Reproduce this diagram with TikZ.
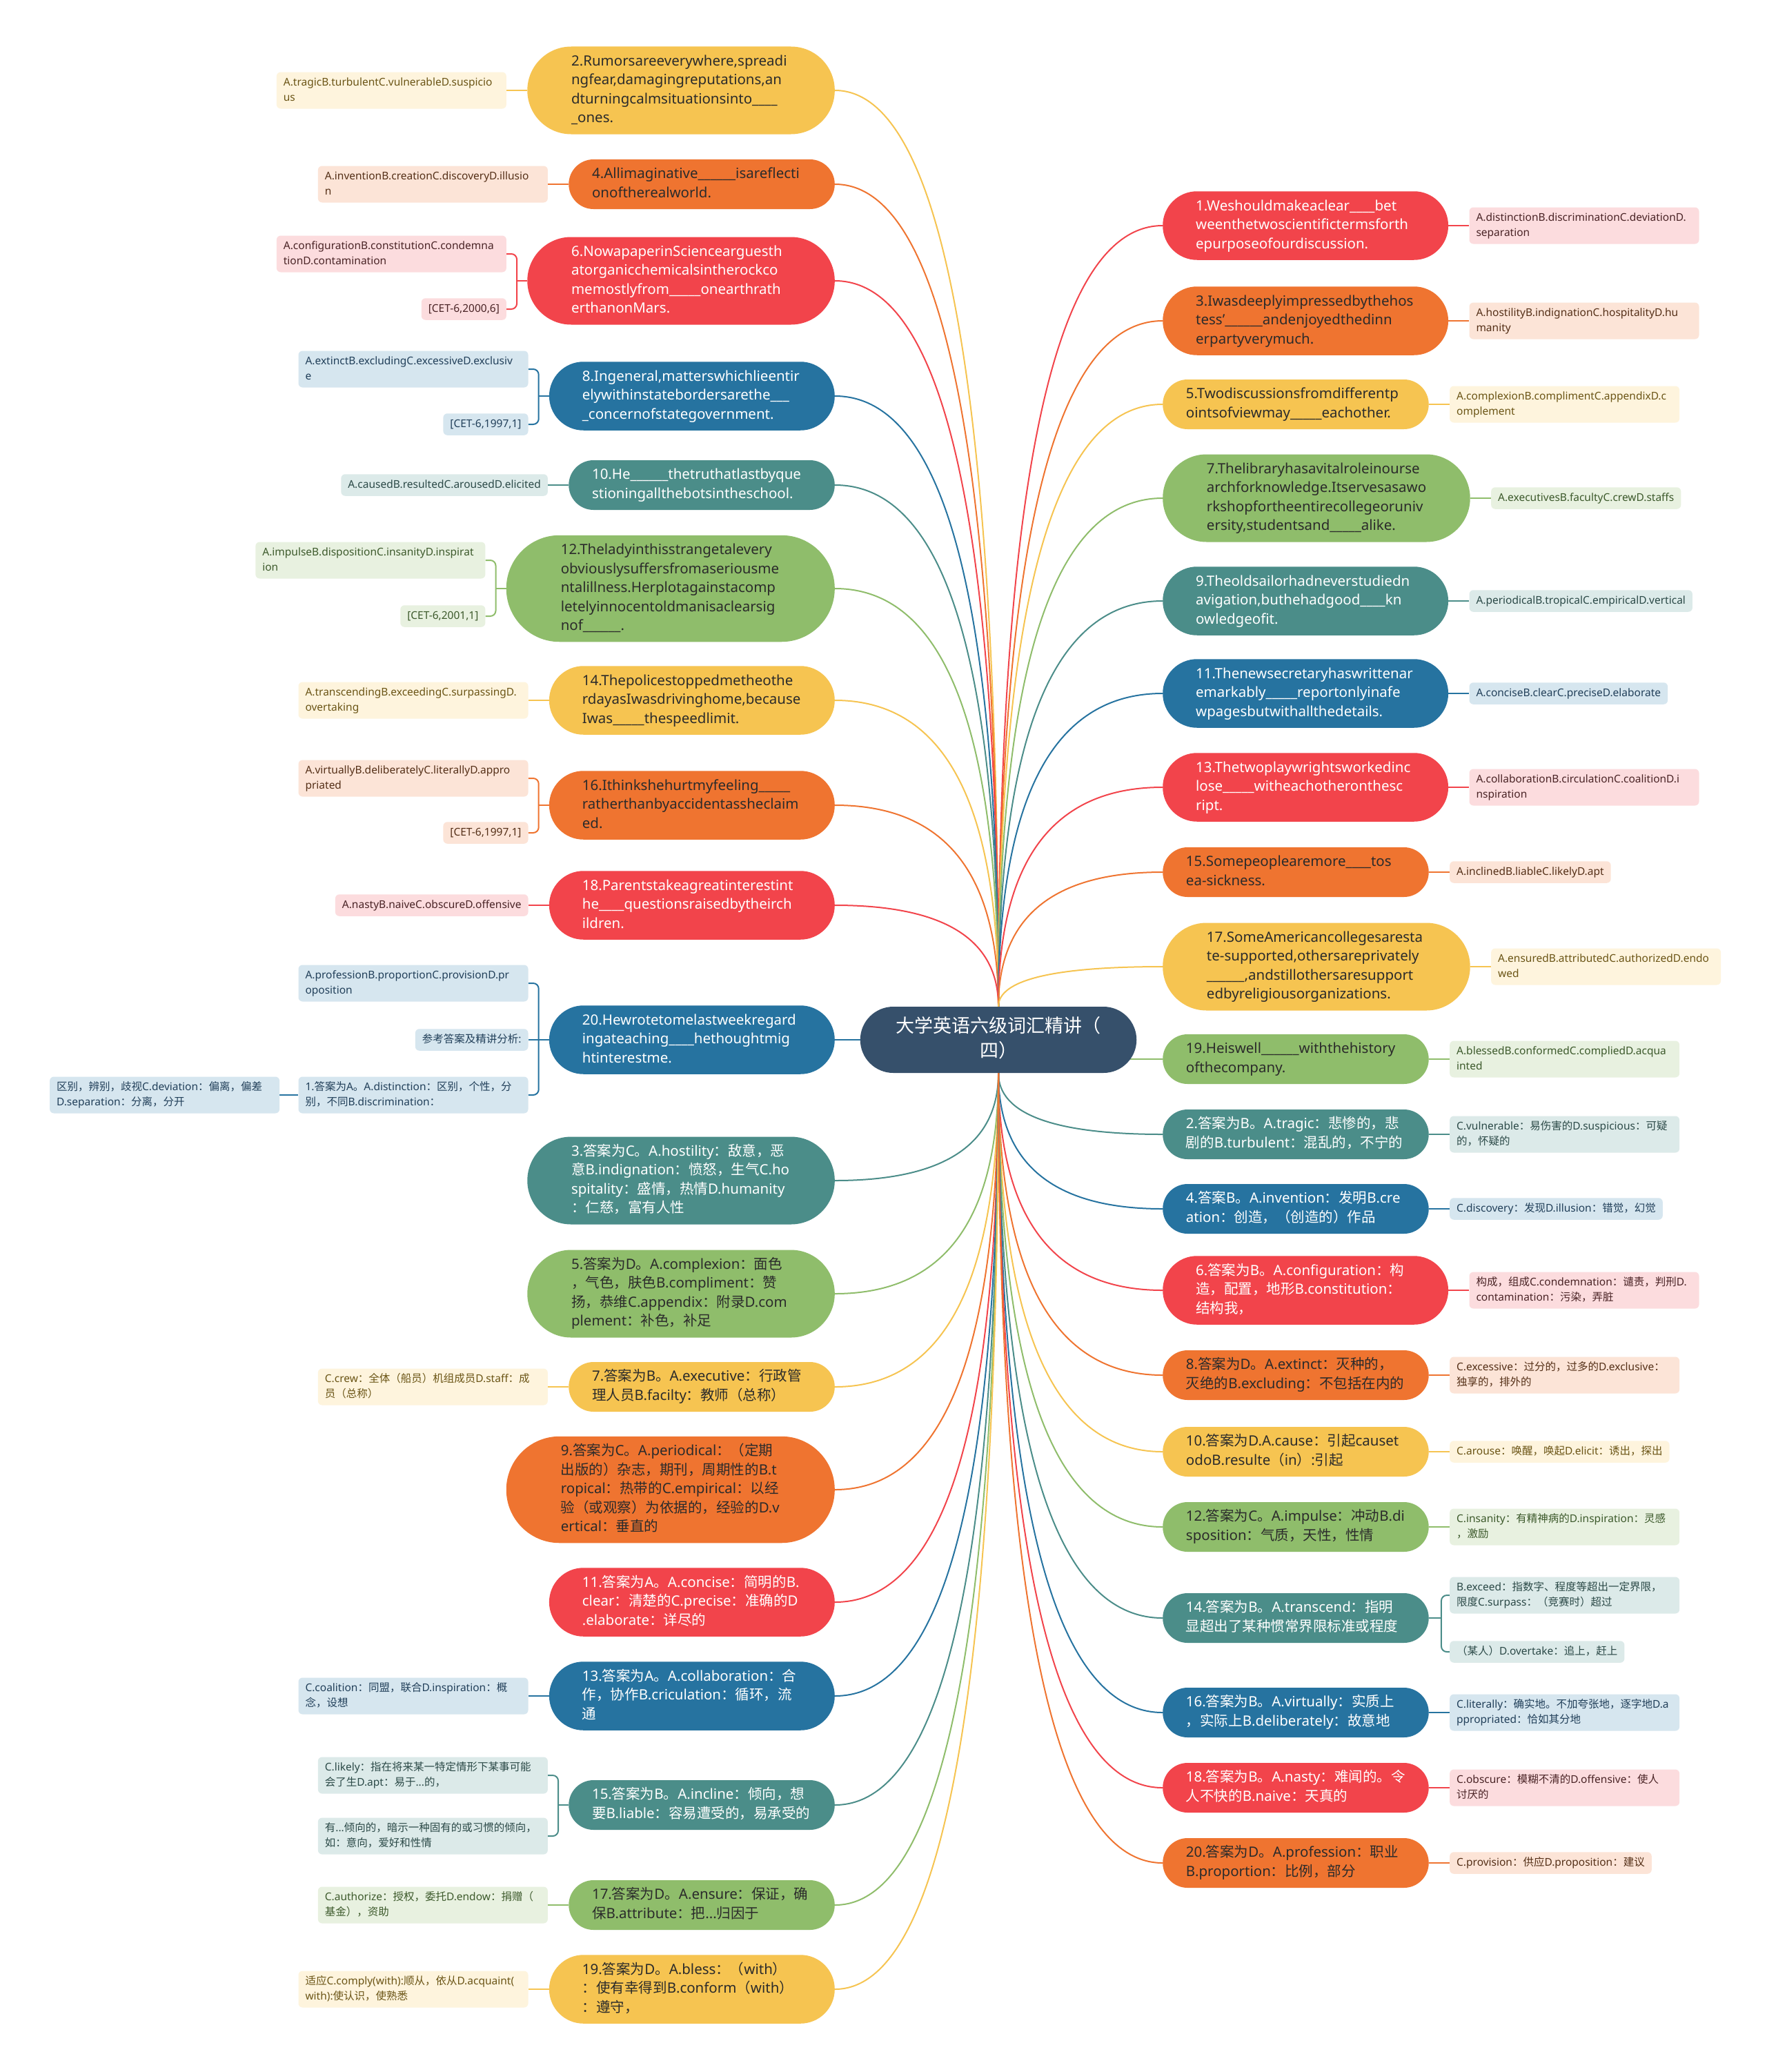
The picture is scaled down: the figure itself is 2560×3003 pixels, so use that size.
\documentclass[tikz,border=0pt]{standalone}
\usepackage{fontspec}
\setmainfont{Noto Sans}
\newfontfamily\cjkfont{Noto Sans CJK SC}
\usetikzlibrary{shapes.misc,positioning,calc}
\pgfdeclarelayer{bg}
\pgfsetlayers{bg,main}

% CJK runs are set in the CJK family
\XeTeXinterchartokenstate=1
\chardef\cjkcls=7
\newcount\cjkcnt
\newcommand\setcjkrange[2]{%
  \cjkcnt=#1\relax
  \loop\XeTeXcharclass\cjkcnt=\cjkcls
    \advance\cjkcnt by 1
  \ifnum\cjkcnt<#2\relax\repeat}
\setcjkrange{"3000}{"3040}
\setcjkrange{"4E00}{"A000}
\setcjkrange{"FF00}{"FFF0}
\XeTeXinterchartoks 0 \cjkcls = {\begingroup\cjkfont}
\XeTeXinterchartoks 4095 \cjkcls = {\begingroup\cjkfont}
\XeTeXinterchartoks \cjkcls 0 = {\endgroup}
\XeTeXinterchartoks \cjkcls 4095 = {\endgroup}

\definecolor{cre}{HTML}{F2444B}
\definecolor{cor}{HTML}{EF7430}
\definecolor{cye}{HTML}{F6C451}
\definecolor{cgr}{HTML}{8FBD6B}
\definecolor{cte}{HTML}{4B8D89}
\definecolor{cbl}{HTML}{2673A0}
\definecolor{cdk}{HTML}{36506B}
\definecolor{lre}{HTML}{FCDCDE}
\definecolor{lor}{HTML}{FCE4D7}
\definecolor{lye}{HTML}{FEF4DD}
\definecolor{lgr}{HTML}{E8F1E0}
\definecolor{lte}{HTML}{DCEAE9}
\definecolor{lbl}{HTML}{D6E6EF}
\definecolor{ink}{HTML}{2B2B2B}
\definecolor{dre}{HTML}{4A2426}
\definecolor{dor}{HTML}{553018}
\definecolor{dye}{HTML}{6B5516}
\definecolor{dgr}{HTML}{3D5A2C}
\definecolor{dte}{HTML}{2C4A48}
\definecolor{dbl}{HTML}{22405A}

\begin{document}
\begin{tikzpicture}[
    x=1pt, y=-1pt,
    node distance=30pt,
    hub/.style={
        rounded rectangle,
        fill=cdk, text=white,
        text width=316pt, align=center,
        inner xsep=26pt, inner ysep=12pt,
        font=\fontsize{27}{36}\selectfont,
        execute at begin node=\strut, execute at end node=\strut
    },
    topic/.style={
        rounded rectangle,
        text width=318pt, align=left,
        inner xsep=21pt, inner ysep=8.5pt,
        font=\fontsize{20.5}{27.5}\selectfont,
        execute at begin node=\strut, execute at end node=\strut
    },
    lines3/.style={inner xsep=26pt},
    lines4/.style={inner xsep=32pt},
    lines5/.style={inner xsep=37pt},
    qred/.style={topic, fill=cre, text=white},
    qorange/.style={topic, fill=cor, text=ink},
    qyellow/.style={topic, fill=cye, text=ink},
    qgreen/.style={topic, fill=cgr, text=ink},
    qteal/.style={topic, fill=cte, text=white},
    qblue/.style={topic, fill=cbl, text=white},
    note/.style={
        rectangle, rounded corners=6pt,
        align=left,
        inner xsep=10pt, inner ysep=5pt,
        font=\fontsize{15.5}{21.5}\selectfont,
        execute at begin node=\strut, execute at end node=\strut
    },
    ared/.style={note, fill=lre, text=dre},
    aorange/.style={note, fill=lor, text=dor},
    ayellow/.style={note, fill=lye, text=dye},
    agreen/.style={note, fill=lgr, text=dgr},
    ateal/.style={note, fill=lte, text=dte},
    ablue/.style={note, fill=lbl, text=dbl},
    wide/.style={text width=313pt},
    ln/.style={draw=#1, line width=2pt}
]
\useasboundingbox (0,0) rectangle (2560,3003);

\node[hub] (ctr) at (1447,1507) {大学英语六级词汇精讲（\\四）};
\coordinate (ctop) at (ctr.north);
\coordinate (cbot) at (ctr.south);

% left questions
\node[qyellow, lines4, anchor=east] (l1) at (1210,131) {2.Rumorsareeverywhere,spreadi\\ngfear,damagingreputations,an\\dturningcalmsituationsinto\_\_\_\_\\\_ones.};
\node[qorange, anchor=east] (l2) at (1210,267) {4.Allimaginative\_\_\_\_\_\_isareflecti\\onoftherealworld.};
\node[qred, lines4, anchor=east] (l3) at (1210,407) {6.NowapaperinSciencearguesth\\atorganicchemicalsintherockco\\memostlyfrom\_\_\_\_\_onearthrath\\erthanonMars.};
\node[qblue, lines3, anchor=east] (l4) at (1210,574) {8.Ingeneral,matterswhichlieentir\\elywithinstatebordersarethe\_\_\_\\\_concernofstategovernment.};
\node[qteal, anchor=east] (l5) at (1210,703) {10.He\_\_\_\_\_\_thetruthatlastbyque\\stioningallthebotsintheschool.};
\node[qgreen, lines5, anchor=east] (l6) at (1210,853) {12.Theladyinthisstrangetalevery\\obviouslysuffersfromaseriousme\\ntalillness.Herplotagainstacomp\\letelyinnocentoldmanisaclearsig\\nof\_\_\_\_\_\_.};
\node[qyellow, lines3, anchor=east] (l7) at (1210,1015) {14.Thepolicestoppedmetheothe\\rdayasIwasdrivinghome,because\\Iwas\_\_\_\_\_thespeedlimit.};
\node[qorange, lines3, anchor=east] (l8) at (1210,1167) {16.Ithinkshehurtmyfeeling\_\_\_\_\_\\ratherthanbyaccidentassheclaim\\ed.};
\node[qred, lines3, anchor=east] (l9) at (1210,1312) {18.Parentstakeagreatinterestint\\he\_\_\_\_questionsraisedbytheirch\\ildren.};
\node[qblue, lines3, anchor=east] (l10) at (1210,1507) {20.Hewrotetomelastweekregard\\ingateaching\_\_\_\_hethoughtmig\\htinterestme.};
\node[qteal, lines4, anchor=east] (l11) at (1210,1711) {3.答案为C。A.hostility：敌意，恶\\意B.indignation：愤怒，生气C.ho\\spitality：盛情，热情D.humanity\\：仁慈，富有人性};
\node[qgreen, lines4, anchor=east] (l12) at (1210,1875) {5.答案为D。A.complexion：面色\\，气色，肤色B.compliment：赞\\扬，恭维C.appendix：附录D.com\\plement：补色，补足};
\node[qyellow, anchor=east] (l13) at (1210,2010) {7.答案为B。A.executive：行政管\\理人员B.facilty：教师（总称）};
\node[qorange, lines5, anchor=east] (l14) at (1210,2159) {9.答案为C。A.periodical：（定期\\出版的）杂志，期刊，周期性的B.t\\ropical：热带的C.empirical：以经\\验（或观察）为依据的，经验的D.v\\ertical：垂直的};
\node[qred, lines3, anchor=east] (l15) at (1210,2322) {11.答案为A。A.concise：简明的B.\\clear：清楚的C.precise：准确的D\\.elaborate：详尽的};
\node[qblue, lines3, anchor=east] (l16) at (1210,2458) {13.答案为A。A.collaboration：合\\作，协作B.criculation：循环，流\\通};
\node[qteal, anchor=east] (l17) at (1210,2616) {15.答案为B。A.incline：倾向，想\\要B.liable：容易遭受的，易承受的};
\node[qgreen, anchor=east] (l18) at (1210,2761) {17.答案为D。A.ensure：保证，确\\保B.attribute：把...归因于};
\node[qyellow, lines3, anchor=east] (l19) at (1210,2883) {19.答案为D。A.bless：（with）\\：使有幸得到B.conform（with）\\：遵守，};

% left answers
\node[ayellow, wide, left=of l1] (l1s) {A.tragicB.turbulentC.vulnerableD.suspicio\\us};
\node[aorange, wide, left=of l2] (l2s) {A.inventionB.creationC.discoveryD.illusio\\n};
\node[ared, wide, left=of l3, yshift=39pt] (l3a) {A.configurationB.constitutionC.condemna\\tionD.contamination};
\node[ared, left=of l3, yshift=-41pt] (l3b) {[CET-6,2000,6]};
\node[ablue, wide, left=of l4, yshift=39pt] (l4a) {A.extinctB.excludingC.excessiveD.exclusiv\\e};
\node[ablue, left=of l4, yshift=-41pt] (l4b) {[CET-6,1997,1]};
\node[ateal, left=of l5] (l5s) {A.causedB.resultedC.arousedD.elicited};
\node[agreen, wide, left=of l6, yshift=41pt] (l6a) {A.impulseB.dispositionC.insanityD.inspirat\\ion};
\node[agreen, left=of l6, yshift=-40pt] (l6b) {[CET-6,2001,1]};
\node[ayellow, wide, left=of l7] (l7s) {A.transcendingB.exceedingC.surpassingD.\\overtaking};
\node[aorange, wide, left=of l8, yshift=39pt] (l8a) {A.virtuallyB.deliberatelyC.literallyD.appro\\priated};
\node[aorange, left=of l8, yshift=-40pt] (l8b) {[CET-6,1997,1]};
\node[ared, left=of l9] (l9s) {A.nastyB.naiveC.obscureD.offensive};
\node[ablue, wide, left=of l10, yshift=82pt] (l10a) {A.professionB.proportionC.provisionD.pr\\oposition};
\node[ablue, left=of l10] (l10b) {参考答案及精讲分析:};
\node[ablue, wide, left=of l10, yshift=-80pt] (l10c) {1.答案为A。A.distinction：区别，个性，分\\别，不同B.discrimination：};
\node[ablue, wide, left=27pt of l10c] (l10d) {区别，辨别，歧视C.deviation：偏离，偏差\\D.separation：分离，分开};
\node[ayellow, wide, left=of l13] (l13s) {C.crew：全体（船员）机组成员D.staff：成\\员（总称）};
\node[ablue, wide, left=of l16] (l16s) {C.coalition：同盟，联合D.inspiration：概\\念，设想};
\node[ateal, wide, left=of l17, yshift=43pt] (l17a) {C.likely：指在将来某一特定情形下某事可能\\会了生D.apt：易于...的，};
\node[ateal, wide, left=of l17, yshift=-45pt] (l17b) {有...倾向的，暗示一种固有的或习惯的倾向，\\如：意向，爱好和性情};
\node[agreen, wide, left=of l18] (l18s) {C.authorize：授权，委托D.endow：捐赠（\\基金），资助};
\node[ayellow, wide, left=of l19] (l19s) {适应C.comply(with):顺从，依从D.acquaint(\\with):使认识，使熟悉};

% right questions
\node[qred, lines3, anchor=west] (r1) at (1685,327) {1.Weshouldmakeaclear\_\_\_\_bet\\weenthetwoscientifictermsforth\\epurposeofourdiscussion.};
\node[qorange, lines3, anchor=west] (r2) at (1685,465) {3.Iwasdeeplyimpressedbythehos\\tess'\_\_\_\_\_\_andenjoyedthedinn\\erpartyverymuch.};
\node[qyellow, anchor=west] (r3) at (1685,586) {5.Twodiscussionsfromdifferentp\\ointsofviewmay\_\_\_\_\_eachother.};
\node[qgreen, lines4, anchor=west] (r4) at (1685,722) {7.Thelibraryhasavitalroleinourse\\archforknowledge.Itservesasawo\\rkshopfortheentirecollegeoruniv\\ersity,studentsand\_\_\_\_\_alike.};
\node[qteal, lines3, anchor=west] (r5) at (1685,871) {9.Theoldsailorhadneverstudiedn\\avigation,buthehadgood\_\_\_\_kn\\owledgeofit.};
\node[qblue, lines3, anchor=west] (r6) at (1685,1005) {11.Thenewsecretaryhaswrittenar\\emarkably\_\_\_\_\_reportonlyinafe\\wpagesbutwithallthedetails.};
\node[qred, lines3, anchor=west] (r7) at (1685,1141) {13.Thetwoplaywrightsworkedinc\\lose\_\_\_\_\_witheachotheronthesc\\ript.};
\node[qorange, anchor=west] (r8) at (1685,1264) {15.Somepeoplearemore\_\_\_\_tos\\ea-sickness.};
\node[qyellow, lines4, anchor=west] (r9) at (1685,1401) {17.SomeAmericancollegesaresta\\te-supported,othersareprivately\\\_\_\_\_\_\_,andstillothersaresupport\\edbyreligiousorganizations.};
\node[qgreen, anchor=west] (r10) at (1685,1535) {19.Heiswell\_\_\_\_\_\_withthehistory\\ofthecompany.};
\node[qteal, anchor=west] (r11) at (1685,1644) {2.答案为B。A.tragic：悲惨的，悲\\剧的B.turbulent：混乱的，不宁的};
\node[qblue, anchor=west] (r12) at (1685,1752) {4.答案B。A.invention：发明B.cre\\ation：创造，（创造的）作品};
\node[qred, lines3, anchor=west] (r13) at (1685,1870) {6.答案为B。A.configuration：构\\造，配置，地形B.constitution：\\结构我，};
\node[qorange, anchor=west] (r14) at (1685,1993) {8.答案为D。A.extinct：灭种的，\\灭绝的B.excluding：不包括在内的};
\node[qyellow, anchor=west] (r15) at (1685,2104) {10.答案为D.A.cause：引起causet\\odoB.resulte（in）:引起};
\node[qgreen, anchor=west] (r16) at (1685,2213) {12.答案为C。A.impulse：冲动B.di\\sposition：气质，天性，性情};
\node[qteal, anchor=west] (r17) at (1685,2345) {14.答案为B。A.transcend：指明\\显超出了某种惯常界限标准或程度};
\node[qblue, anchor=west] (r18) at (1685,2482) {16.答案为B。A.virtually：实质上\\，实际上B.deliberately：故意地};
\node[qred, anchor=west] (r19) at (1685,2591) {18.答案为B。A.nasty：难闻的。令\\人不快的B.naive：天真的};
\node[qorange, anchor=west] (r20) at (1685,2700) {20.答案为D。A.profession：职业\\B.proportion：比例，部分};

% right answers
\node[ared, wide, right=of r1] (r1s) {A.distinctionB.discriminationC.deviationD.\\separation};
\node[aorange, wide, right=of r2] (r2s) {A.hostilityB.indignationC.hospitalityD.hu\\manity};
\node[ayellow, wide, right=of r3] (r3s) {A.complexionB.complimentC.appendixD.c\\omplement};
\node[agreen, right=of r4] (r4s) {A.executivesB.facultyC.crewD.staffs};
\node[ateal, right=of r5] (r5s) {A.periodicalB.tropicalC.empiricalD.vertical};
\node[ablue, right=of r6] (r6s) {A.conciseB.clearC.preciseD.elaborate};
\node[ared, wide, right=of r7] (r7s) {A.collaborationB.circulationC.coalitionD.i\\nspiration};
\node[aorange, right=of r8] (r8s) {A.inclinedB.liableC.likelyD.apt};
\node[ayellow, wide, right=of r9] (r9s) {A.ensuredB.attributedC.authorizedD.endo\\wed};
\node[agreen, wide, right=of r10] (r10s) {A.blessedB.conformedC.compliedD.acqua\\inted};
\node[ateal, wide, right=of r11] (r11s) {C.vulnerable：易伤害的D.suspicious：可疑\\的，怀疑的};
\node[ablue, right=of r12] (r12s) {C.discovery：发现D.illusion：错觉，幻觉};
\node[ared, wide, right=of r13] (r13s) {构成，组成C.condemnation：谴责，判刑D.\\contamination：污染，弄脏};
\node[aorange, wide, right=of r14] (r14s) {C.excessive：过分的，过多的D.exclusive：\\独享的，排外的};
\node[ayellow, right=of r15] (r15s) {C.arouse：唤醒，唤起D.elicit：诱出，探出};
\node[agreen, wide, right=of r16] (r16s) {C.insanity：有精神病的D.inspiration：灵感\\，激励};
\node[ateal, wide, right=of r17, yshift=33pt] (r17a) {B.exceed：指数字、程度等超出一定界限，\\限度C.surpass：（竞赛时）超过};
\node[ateal, right=of r17, yshift=-49pt] (r17b) {（某人）D.overtake：追上，赶上};
\node[ablue, wide, right=of r18] (r18s) {C.literally：确实地。不加夸张地，逐字地D.a\\ppropriated：恰如其分地};
\node[ared, wide, right=of r19] (r19s) {C.obscure：模糊不清的D.offensive：使人\\讨厌的};
\node[aorange, right=of r20] (r20s) {C.provision：供应D.proposition：建议};

\begin{pgfonlayer}{bg}
\fill[white] (0,0) rectangle (2560,3003);

% hub to questions
\foreach \n/\c in {l1/cye,l2/cor,l3/cre,l4/cbl,l5/cte,l6/cgr,l7/cye,l8/cor,l9/cre}
  \draw[ln=\c] (ctop) .. controls ($(ctop)!0.667!(ctop |- \n.east)$) and ($(\n.east)!0.667!(ctop |- \n.east)$) .. (\n.east);
\foreach \n/\c in {l11/cte,l12/cgr,l13/cye,l14/cor,l15/cre,l16/cbl,l17/cte,l18/cgr,l19/cye}
  \draw[ln=\c] (cbot) .. controls ($(cbot)!0.667!(cbot |- \n.east)$) and ($(\n.east)!0.667!(cbot |- \n.east)$) .. (\n.east);
\foreach \n/\c in {r1/cre,r2/cor,r3/cye,r4/cgr,r5/cte,r6/cbl,r7/cre,r8/cor,r9/cye}
  \draw[ln=\c] (ctop) .. controls ($(ctop)!0.667!(ctop |- \n.west)$) and ($(\n.west)!0.667!(ctop |- \n.west)$) .. (\n.west);
\foreach \n/\c in {r11/cte,r12/cbl,r13/cre,r14/cor,r15/cye,r16/cgr,r17/cte,r18/cbl,r19/cre,r20/cor}
  \draw[ln=\c] (cbot) .. controls ($(cbot)!0.667!(cbot |- \n.west)$) and ($(\n.west)!0.667!(cbot |- \n.west)$) .. (\n.west);
\draw[ln=cbl] (ctr.center) -- (l10.east);
\draw[ln=cgr] (ctr.center |- r10.west) -- (r10.west);

% questions to answers
\foreach \m/\s/\c in {l1/l1s/cye,l2/l2s/cor,l5/l5s/cte,l7/l7s/cye,l9/l9s/cre,l10/l10b/cbl,l13/l13s/cye,l16/l16s/cbl,l18/l18s/cgr,l19/l19s/cye}
  \draw[ln=\c] (\m.west) -- (\s.east);
\foreach \m/\s/\c in {r1/r1s/cre,r2/r2s/cor,r3/r3s/cye,r4/r4s/cgr,r5/r5s/cte,r6/r6s/cbl,r7/r7s/cre,r8/r8s/cor,r9/r9s/cye,r10/r10s/cgr,r11/r11s/cte,r12/r12s/cbl,r13/r13s/cre,r14/r14s/cor,r15/r15s/cye,r16/r16s/cgr,r18/r18s/cbl,r19/r19s/cre,r20/r20s/cor}
  \draw[ln=\c] (\m.east) -- (\s.west);

% brackets
\draw[ln=cre, rounded corners=8pt] (l3a.east) -- ++(15,0) coordinate (k3) |- (l3b.east);
\draw[ln=cre] (l3.west) -- (k3 |- l3.west);
\draw[ln=cbl, rounded corners=8pt] (l4a.east) -- ++(15,0) coordinate (k4) |- (l4b.east);
\draw[ln=cbl] (l4.west) -- (k4 |- l4.west);
\draw[ln=cgr, rounded corners=8pt] (l6a.east) -- ++(15,0) coordinate (k6) |- (l6b.east);
\draw[ln=cgr] (l6.west) -- (k6 |- l6.west);
\draw[ln=cor, rounded corners=8pt] (l8a.east) -- ++(15,0) coordinate (k8) |- (l8b.east);
\draw[ln=cor] (l8.west) -- (k8 |- l8.west);
\draw[ln=cbl, rounded corners=8pt] (l10a.east) -- ++(15,0) |- (l10c.east);
\draw[ln=cbl] (l10c.west) -- (l10d.east);
\draw[ln=cte, rounded corners=8pt] (l17a.east) -- ++(15,0) coordinate (k17) |- (l17b.east);
\draw[ln=cte] (l17.west) -- (k17 |- l17.west);
\draw[ln=cte, rounded corners=8pt] (r17a.west) -- ++(-12,0) coordinate (q17) |- (r17b.west);
\draw[ln=cte] (r17.east) -- (q17 |- r17.east);
\end{pgfonlayer}
\end{tikzpicture}
\end{document}
